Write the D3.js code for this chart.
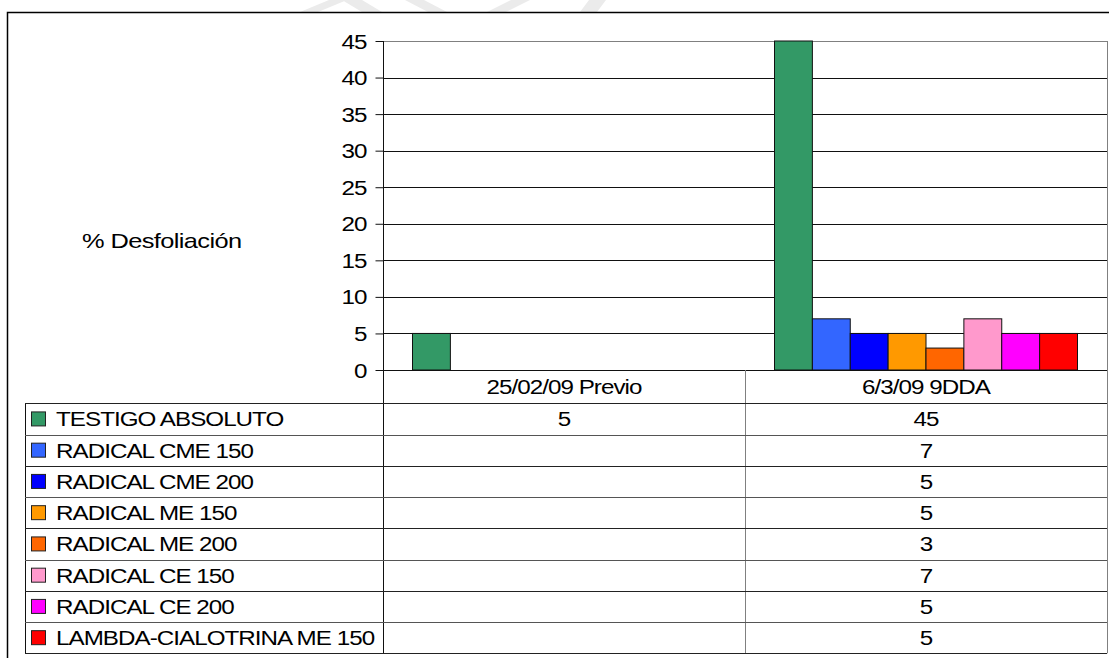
<!DOCTYPE html>
<html>
<head>
<meta charset="utf-8">
<script src="https://cdnjs.cloudflare.com/ajax/libs/d3/7.8.5/d3.min.js"></script>
<style>
  body { margin: 0; background: #fff; }
  svg { display: block; }
  text { font-family: "Liberation Sans", Arial, sans-serif; fill: #000; letter-spacing: -0.8px; }
</style>
</head>
<body>
<div id="chart"></div>
<script>
var categories = ["25/02/09 Previo", "6/3/09 9DDA"];
var seriesNames = [
  "TESTIGO ABSOLUTO", "RADICAL CME 150", "RADICAL CME 200", "RADICAL ME 150",
  "RADICAL ME 200", "RADICAL CE 150", "RADICAL CE 200", "LAMBDA-CIALOTRINA ME 150"
];
var seriesColors = ["#339966", "#3366ff", "#0000ff", "#ff9900", "#ff6600", "#ff99cc", "#ff00ff", "#ff0000"];
// one value per series, null where the table cell is empty
var previoValues = [5, null, null, null, null, null, null, null];
var ddaValues = [45, 7, 5, 5, 3, 7, 5, 5];
var yTicks = [0, 5, 10, 15, 20, 25, 30, 35, 40, 45];
var yLabel = "% Desfoliación";

var W = 1109, H = 658;
var plot = { left: 383, right: 1107, top: 41, bottom: 370 };
var table = { left: 25, headerBottom: 403.3, rowH: 31.25 };
var sx = 1.21; // the source text is stretched sideways
var fontSize = 20;

var svg = d3.select("#chart").append("svg")
  .attr("width", W)
  .attr("height", H);

// faint watermark pieces cut off at the top edge
var marks = [
  [[300, 12], [318, 12], [347, 0], [329, 0]],
  [[342, 0], [362, 0], [382, 12], [362, 12]],
  [[405, 0], [424, 0], [447, 12], [428, 12]],
  [[487, 12], [506, 12], [530, 0], [511, 0]],
  [[580, 12], [597, 12], [606, 0], [589, 0]]
];
svg.append("g").selectAll("polygon")
  .data(marks)
  .enter()
  .append("polygon")
  .attr("points", function (p) { return p.map(function (q) { return q.join(","); }).join(" "); })
  .attr("fill", "#ebebeb");

// outer frame
svg.append("path")
  .attr("d", "M7.5," + H + "V12.5H" + W)
  .attr("fill", "none")
  .attr("stroke", "#000")
  .attr("stroke-width", 1.5);

var rows = categories.map(function (c, i) {
  return { category: c, values: i === 0 ? previoValues : ddaValues };
});

var x0 = d3.scaleBand()
  .domain(categories)
  .range([plot.left, plot.right]);

var gap = 29.5;
var x1 = d3.scaleBand()
  .domain(seriesNames)
  .range([gap, x0.bandwidth() - gap]);

var y = d3.scaleLinear()
  .domain([0, 45])
  .range([plot.bottom, plot.top]);

function stretch(sel, x, yy) {
  sel.attr("transform", "translate(" + x + "," + yy + ") scale(" + sx + ",1)");
}

// gridlines
svg.append("g").selectAll("line")
  .data(yTicks)
  .enter()
  .append("line")
  .attr("x1", plot.left)
  .attr("x2", plot.right)
  .attr("y1", function (d) { return Math.round(y(d)) + 0.5; })
  .attr("y2", function (d) { return Math.round(y(d)) + 0.5; })
  .attr("stroke", function (d) { return d === 45 ? "#808080" : "#111"; })
  .attr("stroke-width", 1);

// bars
var groups = svg.append("g").selectAll("g")
  .data(rows)
  .enter()
  .append("g")
  .attr("transform", function (r) { return "translate(" + x0(r.category) + ",0)"; });

groups.selectAll("rect")
  .data(function (r) {
    return r.values.map(function (v, i) { return { name: seriesNames[i], value: v, color: seriesColors[i] }; })
      .filter(function (d) { return d.value !== null; });
  })
  .enter()
  .append("rect")
  .attr("x", function (d) { return x1(d.name); })
  .attr("width", x1.bandwidth())
  .attr("y", function (d) { return y(d.value); })
  .attr("height", function (d) { return y(0) - y(d.value); })
  .attr("fill", function (d) { return d.color; })
  .attr("stroke", "#111")
  .attr("stroke-width", 1);

// y axis
var yAxis = svg.append("g")
  .attr("transform", "translate(" + (plot.left + 0.5) + ",0)")
  .call(d3.axisLeft(y).tickValues(yTicks).tickSize(8).tickSizeOuter(0).tickFormat(d3.format("d")));

yAxis.select(".domain").remove();
yAxis.selectAll(".tick line").attr("stroke", "#111");
yAxis.selectAll(".tick text")
  .attr("x", 0)
  .attr("dy", null)
  .attr("font-size", fontSize)
  .attr("text-anchor", "end")
  .call(stretch, -17, 7);

// table and axis lines
var lines = svg.append("g").attr("fill", "none");
var tableBottom = table.headerBottom + seriesNames.length * table.rowH;

lines.append("line")
  .attr("x1", plot.left + 0.5).attr("x2", plot.left + 0.5)
  .attr("y1", plot.top).attr("y2", tableBottom)
  .attr("stroke", "#111");

lines.append("line")
  .attr("x1", plot.right + 0.5).attr("x2", plot.right + 0.5)
  .attr("y1", plot.top).attr("y2", tableBottom)
  .attr("stroke", "#808080");

lines.selectAll(".divider")
  .data(categories.slice(1))
  .enter()
  .append("line")
  .attr("class", "divider")
  .attr("x1", function (c) { return x0(c) + 0.5; })
  .attr("x2", function (c) { return x0(c) + 0.5; })
  .attr("y1", plot.bottom)
  .attr("y2", tableBottom)
  .attr("stroke", "#808080");

lines.append("line")
  .attr("x1", table.left + 0.5).attr("x2", table.left + 0.5)
  .attr("y1", table.headerBottom).attr("y2", tableBottom)
  .attr("stroke", "#111");

lines.selectAll(".rowline")
  .data(d3.range(seriesNames.length + 1))
  .enter()
  .append("line")
  .attr("class", "rowline")
  .attr("x1", table.left)
  .attr("x2", plot.right)
  .attr("y1", function (i) { return Math.round(table.headerBottom + i * table.rowH) + 0.5; })
  .attr("y2", function (i) { return Math.round(table.headerBottom + i * table.rowH) + 0.5; })
  .attr("stroke", function (i) { return i % 2 ? "#555" : "#222"; });

// category labels in the header row
svg.append("g").selectAll("text")
  .data(categories)
  .enter()
  .append("text")
  .attr("font-size", fontSize)
  .attr("text-anchor", "middle")
  .text(function (c) { return c; })
  .each(function (c) {
    d3.select(this).call(stretch, x0(c) + x0.bandwidth() / 2, 394);
  });

// legend rows
var legendRows = svg.append("g").selectAll("g")
  .data(seriesNames)
  .enter()
  .append("g")
  .attr("transform", function (n, i) { return "translate(0," + (table.headerBottom + (i + 0.5) * table.rowH) + ")"; });

legendRows.append("rect")
  .attr("x", 31.5)
  .attr("y", -7)
  .attr("width", 14)
  .attr("height", 14)
  .attr("fill", function (n, i) { return seriesColors[i]; })
  .attr("stroke", "#222")
  .attr("stroke-width", 1);

legendRows.append("text")
  .attr("font-size", fontSize)
  .text(function (n) { return n; })
  .call(stretch, 56, 7.5);

// values in the table cells
rows.forEach(function (r) {
  svg.append("g").selectAll("text")
    .data(r.values.map(function (v, i) { return { v: v, i: i }; }).filter(function (d) { return d.v !== null; }))
    .enter()
    .append("text")
    .attr("font-size", fontSize)
    .attr("text-anchor", "middle")
    .text(function (d) { return d.v; })
    .each(function (d) {
      d3.select(this).call(stretch, x0(r.category) + x0.bandwidth() / 2, table.headerBottom + (d.i + 0.5) * table.rowH + 7.5);
    });
});

// axis title, written horizontally
svg.append("text")
  .attr("font-size", 21)
  .style("letter-spacing", "-0.5px")
  .text(yLabel)
  .call(stretch, 82, 248);
</script>
</body>
</html>
